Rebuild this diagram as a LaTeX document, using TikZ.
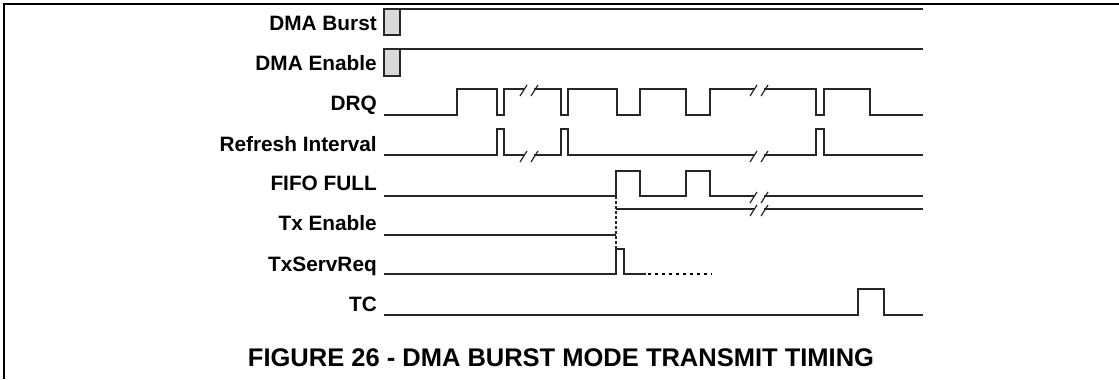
\documentclass[tikz,border=0pt]{standalone}
\usepackage{fontspec}
\setmainfont{Liberation Sans}
\newcommand{\brkmark}[2]{%
  \draw[brk] (#1-9,#2+7) -- (#1-2,#2-4);
  \draw[brk] (#1+2,#2+7) -- (#1+9,#2-4);}
\begin{document}
\begin{tikzpicture}[x=1bp,y=-1bp,
  sig/.style={line width=1.3bp,draw=black!85,line join=miter},
  brk/.style={line width=1.2bp,draw=black!85},
  lbl/.style={anchor=base east,inner sep=0pt,font=\fontsize{20.8bp}{25bp}\selectfont\bfseries},
  captxt/.style={anchor=base,inner sep=0pt,font=\fontsize{25.5bp}{30bp}\selectfont\bfseries},
  gbox/.style={draw=black!85,line width=1.1bp,fill=black!15},
  frameline/.style={line width=2.6bp,draw=black}]
\useasboundingbox (0,0) rectangle (1119,379);
% frame
\draw[frameline] (4,379) -- (4,4) -- (1119,4);
% labels
\node[lbl] (lburst) at (377,30) {DMA Burst};
\node[lbl] (lenable) at (377,70) {DMA Enable};
\node[lbl] (ldrq) at (377,110) {DRQ};
\node[lbl] (lref) at (377,151) {Refresh Interval};
\node[lbl] (lfifo) at (377,190) {FIFO FULL};
\node[lbl] (ltx) at (377,230) {Tx Enable};
\node[lbl] (lsrv) at (377,271) {TxServReq};
\node[lbl] (ltc) at (377,311) {TC};
\node[captxt] (caption) at (561,366) {FIGURE 26 - DMA BURST MODE TRANSMIT TIMING};
% DMA Burst / Enable
\draw[gbox] (384,9) rectangle (400,35);
\draw[sig] (400,9) -- (923,9);
\draw[gbox] (384,49) rectangle (400,76);
\draw[sig] (400,49) -- (923,49);
% DRQ
\draw[sig] (384,115) -- (457,115) -- (457,89) -- (497,89) -- (497,115) -- (504,115) -- (504,89) -- (524,89);
\draw[sig] (534,89) -- (561,89) -- (561,115) -- (568,115) -- (568,89) -- (617,89) -- (617,115) -- (640,115) -- (640,89) -- (686,89) -- (686,115) -- (710,115) -- (710,89) -- (754,89);
\draw[sig] (764,89) -- (816,89) -- (816,115) -- (824,115) -- (824,89) -- (870,89) -- (870,115) -- (923,115);
\brkmark{529}{89}
\brkmark{759}{89}
% Refresh Interval
\draw[sig] (384,155) -- (497,155) -- (497,129) -- (504,129) -- (504,155) -- (524,155);
\draw[sig] (534,155) -- (561,155) -- (561,129) -- (568,129) -- (568,155) -- (754,155);
\draw[sig] (764,155) -- (816,155) -- (816,129) -- (824,129) -- (824,155) -- (923,155);
\brkmark{529}{155}
\brkmark{759}{155}
% FIFO FULL
\draw[sig] (384,196) -- (616,196) -- (616,171) -- (640,171) -- (640,196) -- (686,196) -- (686,171) -- (710,171) -- (710,196) -- (754,196);
\draw[sig] (764,196) -- (923,196);
\brkmark{759}{196}
% Tx Enable
\draw[sig] (384,235) -- (616,235);
\draw[sig] (616,209) -- (754,209);
\draw[sig] (764,209) -- (923,209);
\brkmark{759}{209}
\draw[sig,dash pattern=on 3bp off 2bp] (616,196) -- (616,249);
% TxServReq
\draw[sig] (384,274) -- (616,274) -- (616,249) -- (624,249) -- (624,274) -- (646,274);
\draw[line width=2bp,draw=black,dash pattern=on 2.5bp off 4.5bp] (648,274) -- (712,274);
% TC
\draw[sig] (384,315) -- (858,315) -- (858,289) -- (884,289) -- (884,315) -- (923,315);
\end{tikzpicture}
\end{document}
